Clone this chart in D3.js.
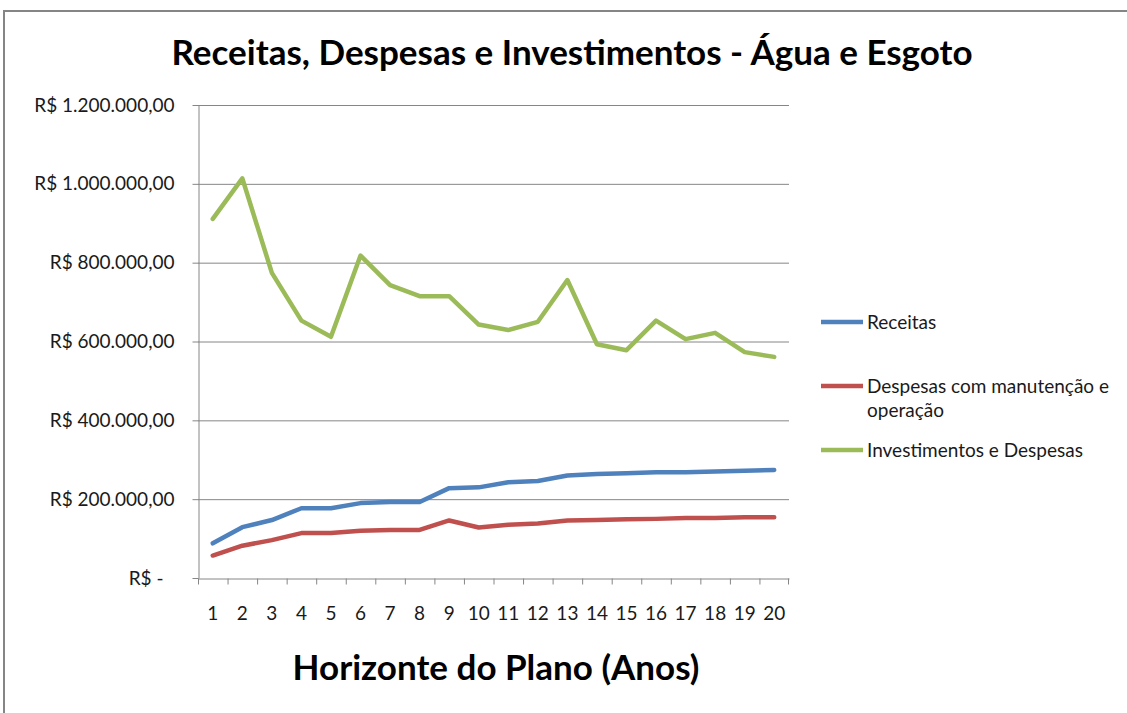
<!DOCTYPE html>
<html>
<head>
<meta charset="utf-8">
<script src="https://cdn.jsdelivr.net/npm/d3@7"></script>
<style>
    body { margin: 0; background: #fff; }
    svg { display: block; font-family: Lato, "Open Sans", sans-serif; }
</style>
</head>
<body>
<div id="chart"></div>
<script>
let anos = d3.range(1, 21).map(String);
let receitas = [88000, 129000, 147000, 177000, 177000, 190000, 193000, 193000, 228000, 230000,
    243000, 246000, 260000, 264000, 266000, 268000, 268000, 270000, 272000, 274000];
let despesas = [57000, 82000, 96000, 114000, 114000, 120000, 122000, 122000, 146000, 128000,
    135000, 138000, 146000, 147000, 149000, 150000, 152000, 152000, 154000, 154000];
let investimentos = [911000, 1014000, 774000, 653000, 612000, 818000, 743000, 715000, 715000, 643000,
    629000, 650000, 756000, 593000, 578000, 653000, 606000, 622000, 573000, 561000];
let yTicks = [0, 200000, 400000, 600000, 800000, 1000000, 1200000];
let seriesNames = ['Receitas', 'Despesas com manutenção e operação', 'Investimentos e Despesas'];
let seriesColors = ['#4f81bd', '#c0504d', '#9bbb59'];

let width = 1127, height = 713;
let plot = {left: 198, right: 789, top: 105, bottom: 578};

let svg = d3.select('#chart').append('svg')
    .attr('width', width)
    .attr('height', height);

// outer chart border (cut by the picture on the right and bottom)
svg.append('rect')
    .attr('x', 4).attr('y', 11)
    .attr('width', 1140).attr('height', 720)
    .attr('fill', '#fff')
    .attr('stroke', '#858585')
    .attr('stroke-width', 2);

let x = d3.scaleBand()
    .domain(anos)
    .range([plot.left, plot.right]);
let y = d3.scaleLinear()
    .domain([0, 1200000])
    .range([plot.bottom, plot.top]);

let fmt = d3.formatLocale({decimal: ',', thousands: '.', grouping: [3], currency: ['R$ ', '']});
let money = v => v === 0 ? 'R$ -' : fmt.format('$,.2f')(v);

// gridlines
svg.append('g')
    .selectAll('line')
    .data(yTicks.filter(d => d > 0))
    .enter().append('line')
    .attr('x1', plot.left).attr('x2', plot.right)
    .attr('y1', d => y(d) + 0.5).attr('y2', d => y(d) + 0.5)
    .attr('stroke', '#868686');

let yAxis = svg.append('g')
    .attr('transform', `translate(${plot.left + 0.5},0)`)
    .call(d3.axisLeft(y).tickValues(yTicks).tickFormat(money).tickSizeInner(6).tickSizeOuter(0).tickPadding(18));
yAxis.select('.domain').attr('stroke', '#868686');
yAxis.selectAll('.tick line').attr('stroke', '#868686');
yAxis.selectAll('.tick text')
    .attr('font-size', 19)
    .attr('fill', '#1a1a1a')
    .attr('font-family', 'Lato, sans-serif')
    .attr('dx', d => d === 0 ? -11 : 0);

let xAxis = svg.append('g')
    .attr('transform', `translate(0,${plot.bottom + 0.5})`)
    .call(d3.axisBottom(x).tickSizeInner(0).tickSizeOuter(0).tickPadding(28));
xAxis.select('.domain').attr('stroke', '#868686');
xAxis.selectAll('.tick text')
    .attr('font-size', 19)
    .attr('fill', '#1a1a1a')
    .attr('font-family', 'Lato, sans-serif');
// category boundary ticks
xAxis.append('g')
    .selectAll('line')
    .data(anos.concat(['end']))
    .enter().append('line')
    .attr('x1', d => d === 'end' ? plot.right - 0.5 : x(d) + 0.5)
    .attr('x2', d => d === 'end' ? plot.right - 0.5 : x(d) + 0.5)
    .attr('y1', 0).attr('y2', 6)
    .attr('stroke', '#868686');

let line = d3.line()
    .x((d, i) => x(anos[i]) + x.bandwidth() / 2)
    .y(d => y(d));

[receitas, despesas, investimentos].forEach((values, i) => {
    svg.append('path')
        .datum(values)
        .attr('d', line)
        .attr('fill', 'none')
        .attr('stroke', seriesColors[i])
        .attr('stroke-width', 4.5)
        .attr('stroke-linejoin', 'round')
        .attr('stroke-linecap', 'round');
});

// legend
let legendRows = [
    {lines: [seriesNames[0]], y: 322},
    {lines: ['Despesas com manutenção e', 'operação'], y: 386},
    {lines: [seriesNames[2]], y: 450}
];
let legend = svg.append('g');
legendRows.forEach((row, i) => {
    legend.append('line')
        .attr('x1', 821).attr('x2', 863)
        .attr('y1', row.y).attr('y2', row.y)
        .attr('stroke', seriesColors[i])
        .attr('stroke-width', 4.5);
    let t = legend.append('text')
        .attr('x', 867).attr('y', row.y + 7)
        .attr('font-size', 19)
        .attr('fill', '#1a1a1a');
    row.lines.forEach((s, k) => {
        t.append('tspan')
            .attr('x', 867)
            .attr('dy', k === 0 ? 0 : 24)
            .text(s);
    });
});

svg.append('text')
    .attr('x', 572).attr('y', 65)
    .attr('text-anchor', 'middle')
    .attr('font-size', 35)
    .attr('font-weight', 'bold')
    .attr('fill', '#000')
    .text('Receitas, Despesas e Investimentos - Água e Esgoto');

svg.append('text')
    .attr('x', 496).attr('y', 680)
    .attr('text-anchor', 'middle')
    .attr('font-size', 35)
    .attr('font-weight', 'bold')
    .attr('fill', '#000')
    .text('Horizonte do Plano (Anos)');
</script>
</body>
</html>
